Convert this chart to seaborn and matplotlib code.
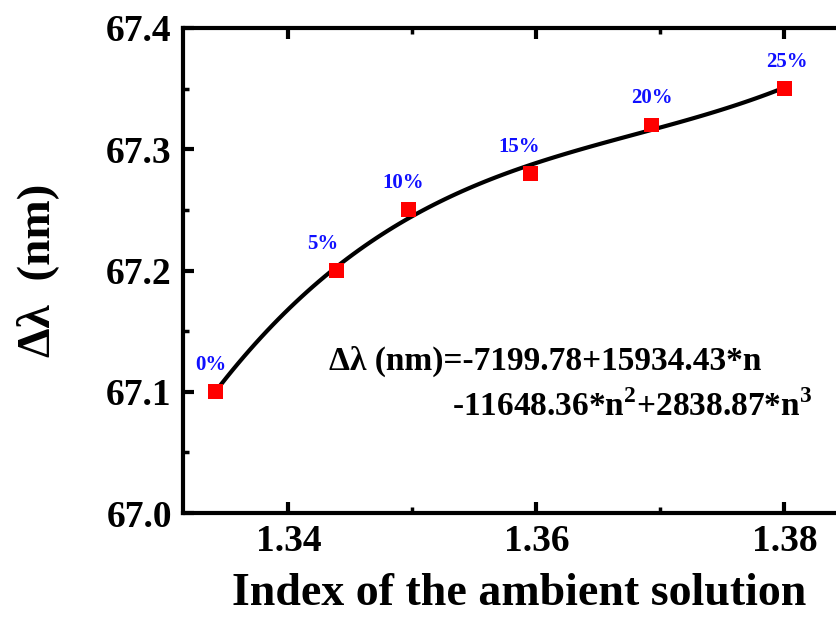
import matplotlib
matplotlib.use("Agg")
import matplotlib.pyplot as plt
from matplotlib.ticker import MultipleLocator
import seaborn as sns
import pandas as pd

# Data
index_n = [1.3341, 1.3439, 1.3497, 1.3595, 1.3693, 1.3800]
delta_lambda = [67.10, 67.20, 67.25, 67.28, 67.32, 67.35]
conc_labels = ["0%", "5%", "10%", "15%", "20%", "25%"]

df = pd.DataFrame({"n": index_n, "dl": delta_lambda, "lab": conc_labels})

sns.set_theme(style="ticks")
plt.rcParams["font.family"] = ["Liberation Serif", "DejaVu Serif"]
plt.rcParams["font.weight"] = "bold"
plt.rcParams["text.color"] = "black"
plt.rcParams["axes.labelcolor"] = "black"
plt.rcParams["xtick.color"] = "black"
plt.rcParams["ytick.color"] = "black"
plt.rcParams["mathtext.fontset"] = "custom"
plt.rcParams["mathtext.rm"] = "Liberation Serif:bold"
plt.rcParams["mathtext.bf"] = "Liberation Serif:bold"

fig = plt.figure(figsize=(8.37, 6.22), dpi=100)
ax = fig.add_axes([0.2186, 0.1752, 0.803, 0.7798])

sns.regplot(data=df, x="n", y="dl", order=3, ci=None, scatter=False, truncate=True,
            line_kws={"color": "black", "lw": 3}, ax=ax)
sns.scatterplot(data=df, x="n", y="dl", marker="s", color="red", s=115,
                edgecolor="none", ax=ax, zorder=3)

offsets = [-3, -10, -4, -8, 0, 2]
for (x, y, lab), dx in zip(zip(index_n, delta_lambda, conc_labels), offsets):
    ax.annotate(lab, (x, y), xytext=(dx, 12), textcoords="offset points",
                ha="center", va="bottom", color="#1010ff", fontsize=15,
                fontweight="bold")

ax.set_xlim(1.3315, 1.3857)
ax.set_ylim(67.0, 67.4)
ax.xaxis.set_minor_locator(MultipleLocator(0.01))
ax.yaxis.set_minor_locator(MultipleLocator(0.05))
ax.set_xticks([1.34, 1.36, 1.38])
ax.set_xticklabels(["1.34", "1.36", "1.38"])
ax.set_yticks([67.0, 67.1, 67.2, 67.3, 67.4])
ax.set_yticklabels(["67.0", "67.1", "67.2", "67.3", "67.4"])

ax.tick_params(which="major", direction="in", length=8, width=3,
               top=True, right=False, labelsize=27, pad=8)
ax.tick_params(which="minor", direction="in", length=4, width=2.5,
               top=True, right=False)
for lab in ax.get_xticklabels() + ax.get_yticklabels():
    lab.set_fontweight("bold")
for sp in ax.spines.values():
    sp.set_linewidth(3)
    sp.set_color("black")
ax.spines["right"].set_visible(False)

ax.set_xlabel("Index of the ambient solution", fontsize=33, fontweight="bold", labelpad=10)
ax.set_ylabel("Δλ  (nm)", fontsize=34, fontweight="bold", labelpad=34)

ax.text(1.3433, 67.118, "Δλ (nm)=-7199.78+15934.43*n", fontsize=24,
        fontweight="bold", ha="left", va="baseline")
ax.text(1.3823, 67.080, r"-11648.36*n$^{\mathbf{2}}$+2838.87*n$^{\mathbf{3}}$",
        fontsize=24, fontweight="bold", ha="right", va="baseline")

fig.savefig("out.png", dpi=100)
